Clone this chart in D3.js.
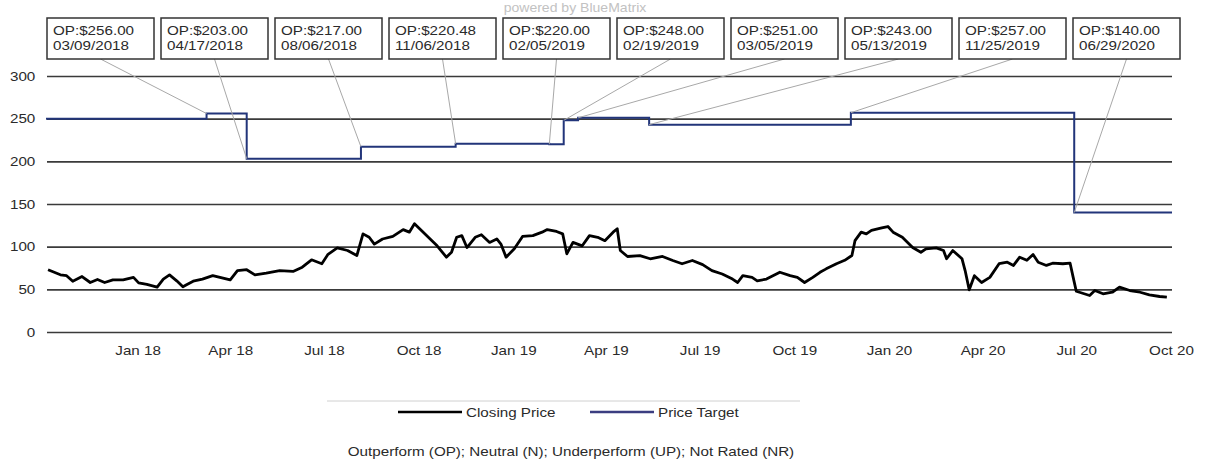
<!DOCTYPE html>
<html>
<head>
<meta charset="utf-8">
<script src="https://cdn.jsdelivr.net/npm/d3@7"></script>
<style>
  body { margin: 0; background: #fff; }
  text { font-family: "Liberation Sans", Arial, sans-serif; fill: #2a2a2a; }
</style>
</head>
<body>
<div id="chart"></div>
<script>
// closing price (date, price)
var closingPrice = [
  ["2017-10-06", 73], ["2017-10-18", 67], ["2017-10-24", 66], ["2017-10-30", 59.5],
  ["2017-11-08", 65], ["2017-11-16", 58], ["2017-11-23", 61.5], ["2017-11-30", 58],
  ["2017-12-08", 61], ["2017-12-18", 61], ["2017-12-28", 64], ["2018-01-02", 57.6],
  ["2018-01-10", 55.7], ["2018-01-20", 52.5], ["2018-01-26", 62], ["2018-02-01", 67],
  ["2018-02-08", 60], ["2018-02-14", 53], ["2018-02-18", 55.7], ["2018-02-24", 59.5],
  ["2018-03-05", 62], ["2018-03-15", 66], ["2018-03-22", 64], ["2018-04-01", 61],
  ["2018-04-08", 72], ["2018-04-17", 73], ["2018-04-25", 67], ["2018-05-06", 69],
  ["2018-05-19", 72], ["2018-06-01", 71], ["2018-06-10", 76], ["2018-06-19", 84.6],
  ["2018-06-29", 80], ["2018-07-05", 91], ["2018-07-14", 98.6], ["2018-07-24", 95.5],
  ["2018-08-02", 89.6], ["2018-08-08", 115], ["2018-08-14", 111], ["2018-08-19", 103],
  ["2018-08-27", 109], ["2018-09-06", 112], ["2018-09-16", 120], ["2018-09-22", 117],
  ["2018-09-27", 126.8], ["2018-10-02", 121], ["2018-10-14", 107], ["2018-10-19", 101],
  ["2018-10-28", 87.7], ["2018-11-02", 93.5], ["2018-11-07", 111], ["2018-11-12", 113],
  ["2018-11-17", 99], ["2018-11-25", 111], ["2018-12-01", 114], ["2018-12-09", 105],
  ["2018-12-16", 109], ["2018-12-20", 103], ["2018-12-25", 87.7], ["2019-01-02", 97.5],
  ["2019-01-10", 112], ["2019-01-20", 113], ["2019-01-29", 117], ["2019-02-03", 120],
  ["2019-02-12", 117.8], ["2019-02-18", 115], ["2019-02-22", 91.6], ["2019-02-28", 105],
  ["2019-03-09", 101], ["2019-03-16", 113], ["2019-03-24", 111], ["2019-03-31", 107],
  ["2019-04-08", 117], ["2019-04-12", 121], ["2019-04-15", 95.5], ["2019-04-22", 88.5],
  ["2019-05-04", 89.6], ["2019-05-14", 85.8], ["2019-05-26", 88.5], ["2019-06-05", 83.8],
  ["2019-06-14", 80], ["2019-06-24", 83.8], ["2019-07-04", 79], ["2019-07-13", 72],
  ["2019-07-23", 68], ["2019-08-02", 62], ["2019-08-07", 58], ["2019-08-12", 66],
  ["2019-08-21", 64], ["2019-08-26", 60], ["2019-09-04", 62], ["2019-09-17", 70],
  ["2019-09-27", 66], ["2019-10-04", 64], ["2019-10-11", 58], ["2019-10-19", 64],
  ["2019-10-26", 70], ["2019-11-01", 74], ["2019-11-11", 80], ["2019-11-19", 84],
  ["2019-11-26", 89.6], ["2019-11-29", 107], ["2019-12-05", 117], ["2019-12-10", 115],
  ["2019-12-15", 119], ["2019-12-25", 122], ["2019-12-31", 123.6], ["2020-01-05", 117],
  ["2020-01-14", 111], ["2020-01-24", 99], ["2020-02-01", 93.5], ["2020-02-06", 97.5],
  ["2020-02-16", 98.6], ["2020-02-23", 95.5], ["2020-02-26", 85.8], ["2020-03-03", 95.5],
  ["2020-03-12", 85.8], ["2020-03-15", 72], ["2020-03-19", 49.4], ["2020-03-24", 66],
  ["2020-03-31", 58], ["2020-04-08", 64], ["2020-04-17", 80], ["2020-04-25", 81.8],
  ["2020-05-01", 78], ["2020-05-07", 87.7], ["2020-05-14", 84], ["2020-05-20", 90.8],
  ["2020-05-25", 81.8], ["2020-06-02", 78], ["2020-06-08", 80.6], ["2020-06-18", 80],
  ["2020-06-25", 80.6], ["2020-06-28", 64], ["2020-07-01", 47.8], ["2020-07-14", 42.8],
  ["2020-07-19", 48.6], ["2020-07-27", 44.8], ["2020-08-05", 46.6], ["2020-08-12", 52.5],
  ["2020-08-22", 48.6], ["2020-09-01", 46.6], ["2020-09-10", 43.6], ["2020-09-20", 41.6],
  ["2020-09-27", 40.8]
];

// price target history
var startTarget = 250;
var targetDates = ["03/09/2018", "04/17/2018", "08/06/2018", "11/06/2018", "02/05/2019",
                   "02/19/2019", "03/05/2019", "05/13/2019", "11/25/2019", "06/29/2020"];
var targetValues = [256, 203, 217, 220.48, 220, 248, 251, 243, 257, 140];
var targetRating = ["OP", "OP", "OP", "OP", "OP", "OP", "OP", "OP", "OP", "OP"];

var yTicks = [0, 50, 100, 150, 200, 250, 300];
var xStart = "2017-10-04", xEnd = "2020-10-02";

var svgwidth = 1206;
var svgheight = 468;
var stretch = 1.17;   // text in the picture is drawn a bit wide

var svg = d3.select("#chart")
    .append("svg")
    .attr("width", svgwidth)
    .attr("height", svgheight);

// text placed at x,y and widened horizontally
function label(g, x, y, str, size, anchor) {
    return g.append("text")
        .attr("transform", "translate(" + x + "," + y + ") scale(" + stretch + ",1)")
        .attr("text-anchor", anchor || "start")
        .style("font-size", (size || 13) + "px")
        .text(str);
}

var parseIso = d3.timeParse("%Y-%m-%d");
var parseUs = d3.timeParse("%m/%d/%Y");

var xscale = d3.scaleTime()
    .domain([parseIso(xStart), parseIso(xEnd)])
    .range([46, 1172]);

var yscale = d3.scaleLinear()
    .domain([0, 300])
    .range([332, 76]);

// grid + y labels
var leftaxis = d3.axisLeft(yscale)
    .tickValues(yTicks)
    .tickSizeInner(-(1172 - 47))
    .tickSizeOuter(0)
    .tickPadding(10);

var yg = svg.append("g")
    .attr("transform", "translate(47,0)")
    .call(leftaxis);
yg.select(".domain").remove();
yg.selectAll("line").attr("stroke", "#3a3a3a").attr("stroke-width", 1.6);
yg.selectAll("text")
    .style("font-size", "13px")
    .attr("fill", "#333")
    .attr("transform", "scale(" + stretch + ",1)");

// x labels
var bottomaxis = d3.axisBottom(xscale)
    .ticks(d3.timeMonth.every(3))
    .tickFormat(d3.timeFormat("%b %y"))
    .tickSize(0)
    .tickPadding(14);

var xg = svg.append("g")
    .attr("transform", "translate(0,332)")
    .call(bottomaxis);
xg.select(".domain").remove();
xg.selectAll("text")
    .style("font-size", "13px")
    .attr("fill", "#333")
    .attr("transform", "scale(" + stretch + ",1)");

// price target step line
var targets = [{date: parseIso(xStart), value: startTarget}];
targetDates.forEach(function(d, i) {
    targets.push({date: parseUs(d), value: targetValues[i]});
});
targets.push({date: parseIso(xEnd), value: targetValues[targetValues.length - 1]});

var stepline = d3.line()
    .x(function(d) { return xscale(d.date); })
    .y(function(d) { return yscale(d.value); })
    .curve(d3.curveStepAfter);

svg.append("path")
    .datum(targets)
    .attr("fill", "none")
    .attr("stroke", "#22357a")
    .attr("stroke-width", 2)
    .attr("d", stepline);

// closing price
var priceline = d3.line()
    .x(function(d) { return xscale(parseIso(d[0])); })
    .y(function(d) { return yscale(d[1]); });

svg.append("path")
    .datum(closingPrice)
    .attr("fill", "none")
    .attr("stroke", "#000")
    .attr("stroke-width", 2.8)
    .attr("stroke-linejoin", "round")
    .attr("d", priceline);

// annotation boxes and leaders
var boxW = 107, boxH = 41, boxTop = 18;
var boxes = svg.append("g");
targetDates.forEach(function(d, i) {
    var bx = 47 + i * 114;
    boxes.append("line")
        .attr("x1", bx + boxW / 2)
        .attr("y1", boxTop + boxH)
        .attr("x2", xscale(parseUs(d)))
        .attr("y2", yscale(targetValues[i]))
        .attr("stroke", "#a8a8a8")
        .attr("stroke-width", 1);
    boxes.append("rect")
        .attr("x", bx).attr("y", boxTop)
        .attr("width", boxW).attr("height", boxH)
        .attr("fill", "#fff")
        .attr("stroke", "#333")
        .attr("stroke-width", 1.5);
    label(boxes, bx + 6, boxTop + 17, targetRating[i] + ":$" + targetValues[i].toFixed(2));
    label(boxes, bx + 6, boxTop + 32, d);
});

label(svg, 575, 12, "powered by BlueMatrix", 12, "middle").style("fill", "#c2c2c2");

// legend
svg.append("line")
    .attr("x1", 327).attr("x2", 800)
    .attr("y1", 401).attr("y2", 401)
    .attr("stroke", "#d0d0d0");

var legend = [
    {label: "Closing Price", color: "#000", x: 398},
    {label: "Price Target", color: "#3b3d80", x: 590}
];
legend.forEach(function(l) {
    svg.append("line")
        .attr("x1", l.x).attr("x2", l.x + 64)
        .attr("y1", 412).attr("y2", 412)
        .attr("stroke", l.color)
        .attr("stroke-width", 2.5);
    label(svg, l.x + 68, 417, l.label);
});

label(svg, 571, 456, "Outperform (OP); Neutral (N); Underperform (UP); Not Rated (NR)", 13, "middle");
</script>
</body>
</html>
